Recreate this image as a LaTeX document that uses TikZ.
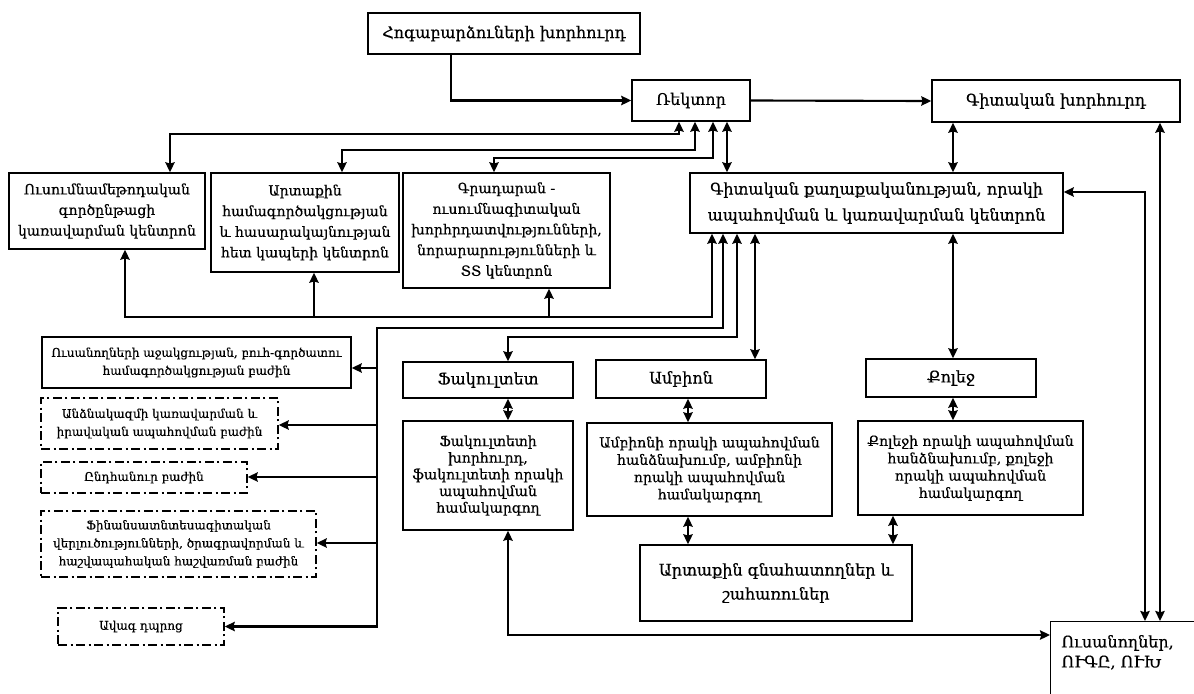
\documentclass[tikz,border=0pt]{standalone}
\usepackage{fontspec}
\setmainfont{DejaVu Serif}[FakeBold = 0.4]
\usetikzlibrary{arrows.meta}

\tikzset{
	unit/.style = {draw, line width = 1.1pt, align = center, inner sep = 1pt},
	dept/.style = {unit, dash pattern = on 7pt off 2.5pt on 1.5pt off 2.5pt},
	tip/.tip = {Stealth[length = 7.5pt, width = 7pt, inset = 1pt]},
	link/.style = {-tip, line width = 1.6pt},
	link2/.style = {tip-tip, line width = 1.6pt},
	big/.style = {font = \fontsize{12}{18}\selectfont},
	mid/.style = {font = \fontsize{10.5}{15.5}\selectfont},
	midt/.style = {font = \fontsize{10.5}{12.5}\selectfont},
	sml/.style = {font = \fontsize{9}{13.5}\selectfont},
	size/.style 2 args = {minimum width = #1*0.75pt, minimum height = #2*0.75pt}
}

\begin{document}
\begin{tikzpicture}[x = 0.75pt, y = -0.75pt]
			\useasboundingbox (0,0) rectangle (1194,693);
			\clip (0,0) rectangle (1194,693);

			% top level
			\node [unit, big, size = {272}{41}] (hoga) at (504,33.5) {Հոգաբարձուների խորհուրդ};
			\node [unit, big, size = {118}{41}] (rektor) at (691,100.5) {Ռեկտոր};
			\node [unit, big, size = {248}{42}] (gitkh) at (1056,101) {Գիտական խորհուրդ};

			% centres
			\node [unit, mid, size = {196}{76}] (umk) at (107,211) {Ուսումնամեթոդական\\գործընթացի\\կառավարման կենտրոն};
			\node [unit, mid, size = {188}{99}] (artk) at (305,222.5) {Արտաքին\\համագործակցության\\և հասարակայնության\\հետ կապերի կենտրոն};
			\node [unit, mid, size = {207}{115}] (grad) at (506.5,230.5) {Գրադարան -\\ուսումնագիտական\\խորհրդատվությունների,\\նորարարությունների և\\ՏՏ կենտրոն};
			\node [unit, big, font = \fontsize{12}{19.5}\selectfont, size = {373}{60}] (kentron) at (876.5,203) {Գիտական քաղաքականության, որակի\\ապահովման և կառավարման կենտրոն};

			% departments
			\node [unit, sml, size = {309}{51}] (bazh1) at (196.5,362.5) {Ուսանողների աջակցության, բուհ-գործատու\\համագործակցության բաժին};
			\node [dept, sml, size = {237}{51}] (bazh2) at (159.5,423.5) {Անձնակազմի կառավարման և\\իրավական ապահովման բաժին};
			\node [dept, sml, size = {206}{31}] (bazh3) at (144,477.5) {Ընդհանուր բաժին};
			\node [dept, sml, size = {275}{66}] (bazh4) at (178.5,544) {Ֆինանսատնտեսագիտական\\վերլուծությունների, ծրագրավորման և\\հաշվապահական հաշվառման բաժին};
			\node [dept, sml, size = {166}{37}] (avag) at (141,626.5) {Ավագ դպրոց};

			% faculty, chair, college
			\node [unit, big, size = {170}{36}] (fak) at (488,380) {Ֆակուլտետ};
			\node [unit, big, size = {170}{38}] (amb) at (681,379) {Ամբիոն};
			\node [unit, big, size = {170}{38}] (qol) at (951,378) {Քոլեջ};
			\node [unit, midt, size = {170}{109}] (fakkh) at (488,475.5) {Ֆակուլտետի\\խորհուրդ,\\ֆակուլտետի որակի\\ապահովման\\համակարգող};
			\node [unit, mid, font = \fontsize{10.5}{13}\selectfont, size = {245}{93}] (ambkh) at (709.5,469.5) {Ամբիոնի որակի ապահովման\\հանձնախումբ, ամբիոնի\\որակի ապահովման\\համակարգող};
			\node [unit, mid, font = \fontsize{10.5}{13}\selectfont, size = {225}{94}] (qolkh) at (970.5,468) {Քոլեջի որակի ապահովման\\հանձնախումբ, քոլեջի\\որակի ապահովման\\համակարգող};
			\node [unit, big, size = {272}{76}] (artgn) at (776,583) {Արտաքին գնահատողներ և\\շահառուներ};
			\node [unit, big, anchor = north west, inner xsep = 8pt, inner ysep = 10pt] (usan) at (1050,621)
				{\parbox[t][60pt][t]{110pt}{\fontsize{12}{15}\selectfont Ուսանողներ,\\ՈՒԳԸ, ՈՒԽ}};

			% rector links
			\draw [link] (hoga.south -| 451,0) |- (rektor.west);
			\draw [link] (rektor.east) -- (gitkh.west);
			\draw [link2] (umk.north -| 170,0) |- (679,134) -- (rektor.south -| 679,0);
			\draw [link2] (artk.north -| 342,0) |- (695,150) -- (rektor.south -| 695,0);
			\draw [link2] (grad.north -| 494,0) |- (713,158) -- (rektor.south -| 713,0);
			\draw [link2] (rektor.south -| 727,0) -- (kentron.north -| 727,0);
			\draw [link2] (gitkh.south -| 953,0) -- (kentron.north -| 953,0);
			\draw [link2] (kentron.east |- 0,192) -| (usan.north -| 1145,0);
			\draw [link2] (gitkh.south -| 1160,0) -- (usan.north -| 1160,0);

			% centre links
			\draw [link2] (umk.south -| 125,0) |- (712,317) -- (kentron.south -| 712,0);
			\coordinate (t1) at (314,317);
			\coordinate (t2) at (549,317);
			\draw [link] (t1) -- (artk.south -| t1);
			\draw [link] (t2) -- (grad.south -| t2);

			\draw [link2] (avag.east) -| (377,328) -| (kentron.south -| 723,0);
			\foreach \b/\y in {bazh1/368, bazh2/425, bazh3/477, bazh4/543}
			{
				\draw [link] (377,\y) -- (\b.east |- 0,\y);
			}

			\draw [link2] (fak.north -| 508,0) |- (737,337) -- (kentron.south -| 737,0);
			\draw [link2] (kentron.south -| 755,0) -- (amb.north -| 755,0);
			\draw [link2] (kentron.south -| 953,0) -- (qol.north -| 953,0);

			% lower links
			\draw [link2] (fak.south -| 508,0) -- (fakkh.north -| 508,0);
			\draw [link2] (amb.south -| 688,0) -- (ambkh.north -| 688,0);
			\draw [link2] (qol.south -| 953,0) -- (qolkh.north -| 953,0);
			\draw [link2] (ambkh.south -| 688,0) -- (artgn.north -| 688,0);
			\draw [link2] (qolkh.south -| 893,0) -- (artgn.north -| 893,0);
			\draw [link2] (fakkh.south -| 508,0) |- (usan.west |- 0,635);
\end{tikzpicture}
\end{document}
